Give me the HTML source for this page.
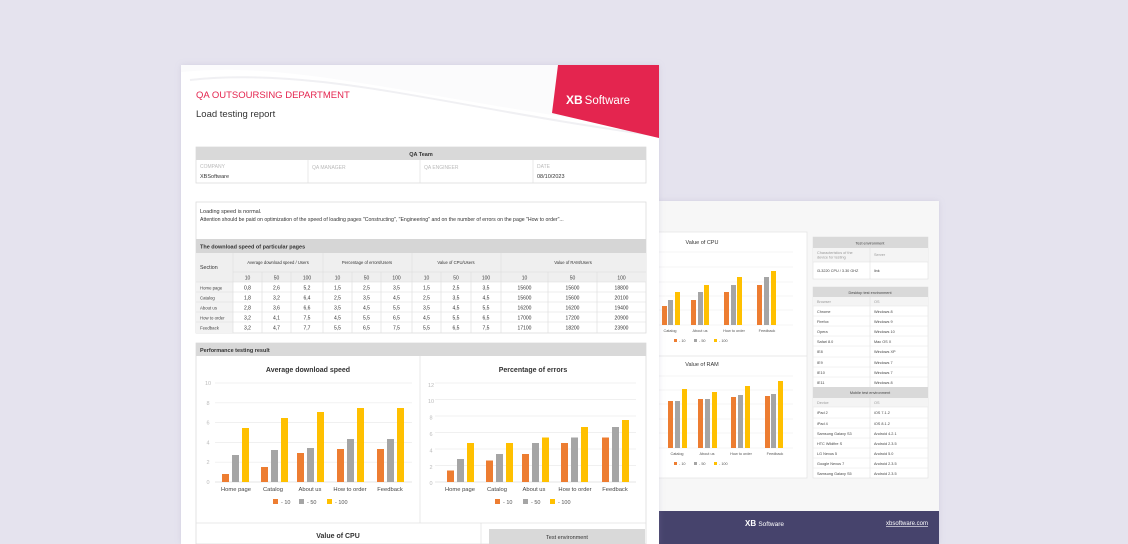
<!DOCTYPE html>
<html><head><meta charset="utf-8"><style>
html,body{margin:0;padding:0;background:#e5e3ee;}
svg{display:block;font-family:"Liberation Sans",sans-serif;}
</style></head><body>
<svg width="1128" height="544" viewBox="0 0 1128 544" xmlns="http://www.w3.org/2000/svg">
<defs><filter id="sh" x="-5%" y="-5%" width="110%" height="110%"><feDropShadow dx="0" dy="0" stdDeviation="3" flood-color="#9a94b8" flood-opacity="0.25"/></filter></defs>
<rect width="1128" height="544" fill="#e5e3ee"/>

<!-- BACK PAGE -->
<rect x="640" y="201" width="299" height="343" fill="#f7f7f7" filter="url(#sh)"/>
<rect x="640" y="511" width="299" height="33" fill="#46436c"/>
<text x="745" y="526" font-size="8" font-weight="bold" fill="#fff">XB <tspan font-weight="normal" font-size="6.5">Software</tspan></text>
<text x="928" y="525" font-size="6" fill="#fff" text-anchor="end" text-decoration="underline">xbsoftware.com</text>
<rect x="640" y="232" width="167" height="246" fill="#fff" stroke="#e3e3e3" stroke-width="0.7"/>
<line x1="640" y1="356" x2="807" y2="356" stroke="#e3e3e3" stroke-width="0.7"/>
<text x="702" y="244" font-size="5.5" fill="#333" text-anchor="middle">Value of CPU</text>
<g stroke="#ececec" stroke-width="0.6"><line x1="640" y1="252" x2="793" y2="252"/><line x1="640" y1="267" x2="793" y2="267"/><line x1="640" y1="282" x2="793" y2="282"/><line x1="640" y1="296" x2="793" y2="296"/><line x1="640" y1="310" x2="793" y2="310"/><line x1="640" y1="325" x2="793" y2="325"/></g>
<g>
<rect x="662" y="306" width="5" height="19" fill="#ed7d31"/><rect x="668" y="300" width="5" height="25" fill="#a5a5a5"/><rect x="675" y="292" width="5" height="33" fill="#ffc000"/>
<rect x="691" y="300" width="5" height="25" fill="#ed7d31"/><rect x="698" y="292" width="5" height="33" fill="#a5a5a5"/><rect x="704" y="285" width="5" height="40" fill="#ffc000"/>
<rect x="724" y="292" width="5" height="33" fill="#ed7d31"/><rect x="731" y="285" width="5" height="40" fill="#a5a5a5"/><rect x="737" y="277" width="5" height="48" fill="#ffc000"/>
<rect x="757" y="285" width="5" height="40" fill="#ed7d31"/><rect x="764" y="277" width="5" height="48" fill="#a5a5a5"/><rect x="771" y="271" width="5" height="54" fill="#ffc000"/>
</g>
<g font-size="3.8" fill="#555" text-anchor="middle"><text x="670" y="332">Catalog</text><text x="700" y="332">About us</text><text x="734" y="332">How to order</text><text x="767" y="332">Feedback</text></g>
<g font-size="3.8" fill="#555"><rect x="674" y="339" width="3" height="3" fill="#ed7d31"/><text x="679" y="342">- 10</text><rect x="694" y="339" width="3" height="3" fill="#a5a5a5"/><text x="699" y="342">- 50</text><rect x="714" y="339" width="3" height="3" fill="#ffc000"/><text x="719" y="342">- 100</text></g>
<text x="702" y="366" font-size="5.5" fill="#333" text-anchor="middle">Value of RAM</text>
<g stroke="#ececec" stroke-width="0.6"><line x1="640" y1="376" x2="793" y2="376"/><line x1="640" y1="390" x2="793" y2="390"/><line x1="640" y1="404" x2="793" y2="404"/><line x1="640" y1="419" x2="793" y2="419"/><line x1="640" y1="433" x2="793" y2="433"/><line x1="640" y1="448" x2="793" y2="448"/></g>
<g>
<rect x="668" y="401" width="5" height="47" fill="#ed7d31"/><rect x="675" y="401" width="5" height="47" fill="#a5a5a5"/><rect x="682" y="389" width="5" height="59" fill="#ffc000"/>
<rect x="698" y="399" width="5" height="49" fill="#ed7d31"/><rect x="705" y="399" width="5" height="49" fill="#a5a5a5"/><rect x="712" y="392" width="5" height="56" fill="#ffc000"/>
<rect x="731" y="397" width="5" height="51" fill="#ed7d31"/><rect x="738" y="395" width="5" height="53" fill="#a5a5a5"/><rect x="745" y="386" width="5" height="62" fill="#ffc000"/>
<rect x="765" y="396" width="5" height="52" fill="#ed7d31"/><rect x="771" y="394" width="5" height="54" fill="#a5a5a5"/><rect x="778" y="381" width="5" height="67" fill="#ffc000"/>
</g>
<g font-size="3.8" fill="#555" text-anchor="middle"><text x="677" y="455">Catalog</text><text x="707" y="455">About us</text><text x="741" y="455">How to order</text><text x="775" y="455">Feedback</text></g>
<g font-size="3.8" fill="#555"><rect x="674" y="462" width="3" height="3" fill="#ed7d31"/><text x="679" y="465">- 10</text><rect x="694" y="462" width="3" height="3" fill="#a5a5a5"/><text x="699" y="465">- 50</text><rect x="714" y="462" width="3" height="3" fill="#ffc000"/><text x="719" y="465">- 100</text></g>

<!-- right tables -->
<g font-size="3.8" fill="#444">
<rect x="813" y="237" width="115" height="42" fill="#fff" stroke="#e0e0e0" stroke-width="0.6"/>
<rect x="813" y="237" width="115" height="11" fill="#d9d9d9"/>
<text x="870" y="244.5" text-anchor="middle">Test environment</text>
<rect x="813" y="248" width="115" height="14" fill="#f4f4f4"/>
<line x1="870" y1="248" x2="870" y2="279" stroke="#e0e0e0" stroke-width="0.6"/>
<line x1="813" y1="262" x2="928" y2="262" stroke="#e0e0e0" stroke-width="0.6"/>
<text x="817" y="254" fill="#999">Characteristics of the</text><text x="817" y="258.5" fill="#999">device for testing</text><text x="874" y="256" fill="#999">Server</text>
<text x="817" y="272">i3-3220 CPU / 3.30 GHZ</text><text x="874" y="272">link</text>
<rect x="813" y="287" width="115" height="191" fill="#fff" stroke="#e0e0e0" stroke-width="0.6"/>
<rect x="813" y="287" width="115" height="10" fill="#d9d9d9"/><text x="870" y="294" text-anchor="middle">Desktop test environment</text>
<rect x="813" y="297" width="115" height="9" fill="#f4f4f4"/><text x="817" y="303" fill="#999">Browser</text><text x="874" y="303" fill="#999">OS</text>
<rect x="813" y="387" width="115" height="11" fill="#d9d9d9"/><text x="870" y="394" text-anchor="middle">Mobile test environment</text>
<rect x="813" y="398" width="115" height="9" fill="#f4f4f4"/><text x="817" y="404" fill="#999">Device</text><text x="874" y="404" fill="#999">OS</text>
<line x1="870" y1="297" x2="870" y2="387" stroke="#e0e0e0" stroke-width="0.6"/>
<line x1="870" y1="398" x2="870" y2="478" stroke="#e0e0e0" stroke-width="0.6"/>
<g stroke="#e6e6e6" stroke-width="0.5"><line x1="813" y1="306" x2="928" y2="306"/><line x1="813" y1="316" x2="928" y2="316"/><line x1="813" y1="326" x2="928" y2="326"/><line x1="813" y1="336" x2="928" y2="336"/><line x1="813" y1="346" x2="928" y2="346"/><line x1="813" y1="357" x2="928" y2="357"/><line x1="813" y1="367" x2="928" y2="367"/><line x1="813" y1="377" x2="928" y2="377"/><line x1="813" y1="407" x2="928" y2="407"/><line x1="813" y1="418" x2="928" y2="418"/><line x1="813" y1="428" x2="928" y2="428"/><line x1="813" y1="438" x2="928" y2="438"/><line x1="813" y1="448" x2="928" y2="448"/><line x1="813" y1="458" x2="928" y2="458"/><line x1="813" y1="468" x2="928" y2="468"/></g>
<text x="817" y="313">Chrome</text><text x="874" y="313">Windows 8</text>
<text x="817" y="323">Firefox</text><text x="874" y="323">Windows 9</text>
<text x="817" y="333">Opera</text><text x="874" y="333">Windows 10</text>
<text x="817" y="343">Safari 8.0</text><text x="874" y="343">Mac OS X</text>
<text x="817" y="353">IE8</text><text x="874" y="353">Windows XP</text>
<text x="817" y="364">IE9</text><text x="874" y="364">Windows 7</text>
<text x="817" y="374">IE10</text><text x="874" y="374">Windows 7</text>
<text x="817" y="384">IE11</text><text x="874" y="384">Windows 8</text>
<text x="817" y="414">iPad 2</text><text x="874" y="414">iOS 7.1.2</text>
<text x="817" y="425">iPad 4</text><text x="874" y="425">iOS 8.1.2</text>
<text x="817" y="435">Samsung Galaxy S3</text><text x="874" y="435">Android 4.2.1</text>
<text x="817" y="445">HTC Wildfire S</text><text x="874" y="445">Android 2.3.5</text>
<text x="817" y="455">LG Nexus 5</text><text x="874" y="455">Android 5.0</text>
<text x="817" y="465">Google Nexus 7</text><text x="874" y="465">Android 2.3.5</text>
<text x="817" y="475">Samsung Galaxy S5</text><text x="874" y="475">Android 2.3.5</text>
</g>

<!-- FRONT PAGE -->
<rect x="181" y="65" width="478" height="479" fill="#fff" filter="url(#sh)"/>
<path d="M181,72 C300,60 420,100 659,130 L659,65 L181,65 Z" fill="#fbfbfc"/>
<path d="M190,80 C320,66 450,108 659,136" fill="none" stroke="#f0f0f3" stroke-width="2"/>
<path d="M558,65 L659,65 L659,138 L552,113 Z" fill="#e4254f"/>
<text x="566" y="104" font-size="12" font-weight="bold" fill="#fff">XB<tspan font-weight="normal" font-size="11.5" dx="2">Software</tspan></text>
<text x="196" y="98" font-size="9.5" fill="#e4254f">QA OUTSOURSING DEPARTMENT</text>
<text x="196" y="117" font-size="9.5" fill="#333">Load testing report</text>

<rect x="196" y="147" width="450" height="36" fill="#fff" stroke="#d8d8d8" stroke-width="0.7"/>
<rect x="196" y="147" width="450" height="13" fill="#d9d9d9"/>
<text x="421" y="156" font-size="5.5" font-weight="bold" fill="#333" text-anchor="middle">QA Team</text>
<g stroke="#e0e0e0" stroke-width="0.7"><line x1="308" y1="160" x2="308" y2="183"/><line x1="420" y1="160" x2="420" y2="183"/><line x1="533" y1="160" x2="533" y2="183"/></g>
<g font-size="5" fill="#bbb"><text x="200" y="168">COMPANY</text><text x="312" y="169">QA MANAGER</text><text x="424" y="169">QA ENGINEER</text><text x="537" y="168">DATE</text></g>
<g font-size="5.5" fill="#333"><text x="200" y="178">XBSoftware</text><text x="537" y="178">08/10/2023</text></g>

<rect x="196" y="202" width="450" height="131" fill="#fff" stroke="#d8d8d8" stroke-width="0.7"/>
<text x="200" y="213" font-size="5.5" fill="#333">Loading speed is normal.</text>
<text x="200" y="221" font-size="5.2" fill="#333">Attention should be paid on optimization of the speed of loading pages "Constructing", "Engineering" and on the number of errors on the page "How to order"...</text>
<rect x="196" y="239" width="450" height="14" fill="#d6d6d6"/>
<text x="200" y="248.5" font-size="5.5" font-weight="bold" fill="#333">The download speed of particular pages</text>
<rect x="196" y="253" width="450" height="29" fill="#efefef"/>
<rect x="196" y="282" width="37" height="51" fill="#f3f3f3"/>
<g stroke="#dcdcdc" stroke-width="0.6">
<line x1="233" y1="253" x2="233" y2="333"/><line x1="323" y1="253" x2="323" y2="333"/><line x1="412" y1="253" x2="412" y2="333"/><line x1="501" y1="253" x2="501" y2="333"/>
<line x1="262" y1="272" x2="262" y2="333"/><line x1="291" y1="272" x2="291" y2="333"/><line x1="352" y1="272" x2="352" y2="333"/><line x1="381" y1="272" x2="381" y2="333"/><line x1="441" y1="272" x2="441" y2="333"/><line x1="471" y1="272" x2="471" y2="333"/><line x1="548" y1="272" x2="548" y2="333"/><line x1="597" y1="272" x2="597" y2="333"/>
<line x1="233" y1="272" x2="646" y2="272"/><line x1="196" y1="282" x2="646" y2="282"/><line x1="196" y1="292" x2="646" y2="292"/><line x1="196" y1="302" x2="646" y2="302"/><line x1="196" y1="312" x2="646" y2="312"/><line x1="196" y1="322" x2="646" y2="322"/>
</g>
<text x="200" y="269" font-size="5.3" fill="#333">Section</text>
<g font-size="4.2" fill="#333" text-anchor="middle"><text x="278" y="264">Average download speed / Users</text><text x="367" y="264">Percentage of errors/Users</text><text x="456" y="264">Value of CPU/Users</text><text x="573" y="264">Value of RAM/Users</text></g>
<g font-size="5" fill="#444" text-anchor="middle">
<text x="247.5" y="279.5">10</text><text x="276.5" y="279.5">50</text><text x="307" y="279.5">100</text><text x="337.5" y="279.5">10</text><text x="366.5" y="279.5">50</text><text x="396.5" y="279.5">100</text><text x="426.5" y="279.5">10</text><text x="456" y="279.5">50</text><text x="486" y="279.5">100</text><text x="524.5" y="279.5">10</text><text x="572.5" y="279.5">50</text><text x="621.5" y="279.5">100</text>
</g>
<g font-size="4.3" fill="#444"><text x="200" y="289.5">Home page</text><text x="200" y="299.5">Catalog</text><text x="200" y="309.5">About us</text><text x="200" y="319.5">How to order</text><text x="200" y="329.5">Feedback</text></g>
<g font-size="5" fill="#333" text-anchor="middle">
<g transform="translate(0,289.5)"><text x="247.5">0,8</text><text x="276.5">2,6</text><text x="307">5,2</text><text x="337.5">1,5</text><text x="366.5">2,5</text><text x="396.5">3,5</text><text x="426.5">1,5</text><text x="456">2,5</text><text x="486">3,5</text><text x="524.5">15600</text><text x="572.5">15600</text><text x="621.5">18800</text></g>
<g transform="translate(0,299.5)"><text x="247.5">1,8</text><text x="276.5">3,2</text><text x="307">6,4</text><text x="337.5">2,5</text><text x="366.5">3,5</text><text x="396.5">4,5</text><text x="426.5">2,5</text><text x="456">3,5</text><text x="486">4,5</text><text x="524.5">15600</text><text x="572.5">15600</text><text x="621.5">20100</text></g>
<g transform="translate(0,309.5)"><text x="247.5">2,8</text><text x="276.5">3,6</text><text x="307">6,6</text><text x="337.5">3,5</text><text x="366.5">4,5</text><text x="396.5">5,5</text><text x="426.5">3,5</text><text x="456">4,5</text><text x="486">5,5</text><text x="524.5">16200</text><text x="572.5">16200</text><text x="621.5">19400</text></g>
<g transform="translate(0,319.5)"><text x="247.5">3,2</text><text x="276.5">4,1</text><text x="307">7,5</text><text x="337.5">4,5</text><text x="366.5">5,5</text><text x="396.5">6,5</text><text x="426.5">4,5</text><text x="456">5,5</text><text x="486">6,5</text><text x="524.5">17000</text><text x="572.5">17200</text><text x="621.5">20900</text></g>
<g transform="translate(0,329.5)"><text x="247.5">3,2</text><text x="276.5">4,7</text><text x="307">7,7</text><text x="337.5">5,5</text><text x="366.5">6,5</text><text x="396.5">7,5</text><text x="426.5">5,5</text><text x="456">6,5</text><text x="486">7,5</text><text x="524.5">17100</text><text x="572.5">18200</text><text x="621.5">23900</text></g>
</g>

<!-- Performance -->
<rect x="196" y="343" width="450" height="201" fill="#fff" stroke="#d8d8d8" stroke-width="0.7"/>
<rect x="196" y="343" width="450" height="13" fill="#d9d9d9"/>
<text x="200" y="352" font-size="5.5" font-weight="bold" fill="#333">Performance testing result</text>
<g stroke="#e0e0e0" stroke-width="0.7"><line x1="420" y1="356" x2="420" y2="523"/><line x1="196" y1="523" x2="646" y2="523"/><line x1="481" y1="523" x2="481" y2="544"/></g>

<!-- chart 1 -->
<text x="308" y="372" font-size="7" font-weight="bold" fill="#333" text-anchor="middle">Average download speed</text>
<g stroke="#ebebeb" stroke-width="0.7"><line x1="215" y1="383" x2="412" y2="383"/><line x1="215" y1="402.8" x2="412" y2="402.8"/><line x1="215" y1="422.6" x2="412" y2="422.6"/><line x1="215" y1="442.4" x2="412" y2="442.4"/><line x1="215" y1="462.2" x2="412" y2="462.2"/><line x1="215" y1="482" x2="412" y2="482" stroke="#ddd"/></g>
<g font-size="5.5" fill="#bbb" text-anchor="middle"><text x="208" y="385">10</text><text x="208" y="405">8</text><text x="208" y="424.5">6</text><text x="208" y="444.5">4</text><text x="208" y="464">2</text><text x="208" y="484">0</text></g>
<g>
<rect x="222" y="474" width="7" height="8" fill="#ed7d31"/><rect x="232" y="455" width="7" height="27" fill="#a5a5a5"/><rect x="242" y="428" width="7" height="54" fill="#ffc000"/>
<rect x="261" y="467" width="7" height="15" fill="#ed7d31"/><rect x="271" y="450" width="7" height="32" fill="#a5a5a5"/><rect x="281" y="418" width="7" height="64" fill="#ffc000"/>
<rect x="297" y="453" width="7" height="29" fill="#ed7d31"/><rect x="307" y="448" width="7" height="34" fill="#a5a5a5"/><rect x="317" y="412" width="7" height="70" fill="#ffc000"/>
<rect x="337" y="449" width="7" height="33" fill="#ed7d31"/><rect x="347" y="439" width="7" height="43" fill="#a5a5a5"/><rect x="357" y="408" width="7" height="74" fill="#ffc000"/>
<rect x="377" y="449" width="7" height="33" fill="#ed7d31"/><rect x="387" y="439" width="7" height="43" fill="#a5a5a5"/><rect x="397" y="408" width="7" height="74" fill="#ffc000"/>
</g>
<g font-size="5.8" fill="#444" text-anchor="middle"><text x="236" y="491">Home page</text><text x="273" y="491">Catalog</text><text x="310" y="491">About us</text><text x="350" y="491">How to order</text><text x="390" y="491">Feedback</text></g>
<g font-size="5.5" fill="#555"><rect x="273" y="499" width="5" height="5" fill="#ed7d31"/><text x="281" y="504">- 10</text><rect x="299" y="499" width="5" height="5" fill="#a5a5a5"/><text x="307" y="504">- 50</text><rect x="327" y="499" width="5" height="5" fill="#ffc000"/><text x="335" y="504">- 100</text></g>

<!-- chart 2 -->
<text x="533" y="372" font-size="7" font-weight="bold" fill="#333" text-anchor="middle">Percentage of errors</text>
<g stroke="#ebebeb" stroke-width="0.7"><line x1="435" y1="383" x2="636" y2="383"/><line x1="435" y1="399.5" x2="636" y2="399.5"/><line x1="435" y1="416" x2="636" y2="416"/><line x1="435" y1="432.5" x2="636" y2="432.5"/><line x1="435" y1="449" x2="636" y2="449"/><line x1="435" y1="465.5" x2="636" y2="465.5"/><line x1="435" y1="482" x2="636" y2="482" stroke="#ddd"/></g>
<g font-size="5.5" fill="#bbb" text-anchor="middle"><text x="431" y="387">12</text><text x="431" y="403">10</text><text x="431" y="419.5">8</text><text x="431" y="436">6</text><text x="431" y="452.5">4</text><text x="431" y="469">2</text><text x="431" y="485">0</text></g>
<g>
<rect x="447" y="470.5" width="7" height="11.5" fill="#ed7d31"/><rect x="457" y="459" width="7" height="23" fill="#a5a5a5"/><rect x="467" y="443" width="7" height="39" fill="#ffc000"/>
<rect x="486" y="460.5" width="7" height="21.5" fill="#ed7d31"/><rect x="496" y="454" width="7" height="28" fill="#a5a5a5"/><rect x="506" y="443" width="7" height="39" fill="#ffc000"/>
<rect x="522" y="454" width="7" height="28" fill="#ed7d31"/><rect x="532" y="443" width="7" height="39" fill="#a5a5a5"/><rect x="542" y="437.5" width="7" height="44.5" fill="#ffc000"/>
<rect x="561" y="443" width="7" height="39" fill="#ed7d31"/><rect x="571" y="437.5" width="7" height="44.5" fill="#a5a5a5"/><rect x="581" y="427" width="7" height="55" fill="#ffc000"/>
<rect x="602" y="437.5" width="7" height="44.5" fill="#ed7d31"/><rect x="612" y="427" width="7" height="55" fill="#a5a5a5"/><rect x="622" y="420" width="7" height="62" fill="#ffc000"/>
</g>
<g font-size="5.8" fill="#444" text-anchor="middle"><text x="460" y="491">Home page</text><text x="497" y="491">Catalog</text><text x="534" y="491">About us</text><text x="575" y="491">How to order</text><text x="615" y="491">Feedback</text></g>
<g font-size="5.5" fill="#555"><rect x="495" y="499" width="5" height="5" fill="#ed7d31"/><text x="503" y="504">- 10</text><rect x="523" y="499" width="5" height="5" fill="#a5a5a5"/><text x="531" y="504">- 50</text><rect x="550" y="499" width="5" height="5" fill="#ffc000"/><text x="558" y="504">- 100</text></g>

<text x="338" y="538" font-size="7" font-weight="bold" fill="#333" text-anchor="middle">Value of CPU</text>
<rect x="489" y="529" width="156" height="15" fill="#d9d9d9"/>
<text x="567" y="539" font-size="5.5" fill="#333" text-anchor="middle">Test environment</text>
</svg>
</body></html>
